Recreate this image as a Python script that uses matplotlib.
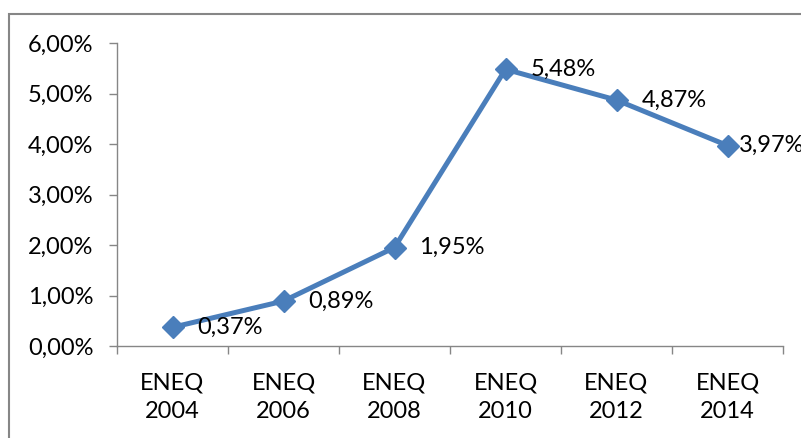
import matplotlib
matplotlib.use("Agg")
import matplotlib.pyplot as plt
from matplotlib.patches import Rectangle
from matplotlib.ticker import FuncFormatter

categories = ["ENEQ\n2004", "ENEQ\n2006", "ENEQ\n2008", "ENEQ\n2010", "ENEQ\n2012", "ENEQ\n2014"]
values = [0.37, 0.89, 1.95, 5.48, 4.87, 3.97]
yticks = [0, 1, 2, 3, 4, 5, 6]

plt.rcParams['font.family'] = ['Lato', 'DejaVu Sans']
W, H = 801, 438
fig = plt.figure(figsize=(W/100, H/100), dpi=100)
ax = fig.add_axes([117/W, 1-346/H, 666/W, 303/H])

blue = "#4A7EBB"
gray = "#868686"
fs = 17
x = [i + 0.5 for i in range(len(values))]
ax.plot(x, values, color=blue, lw=3.6, marker="D", markersize=11.5, zorder=3, clip_on=False)
for i, (xi, v) in enumerate(zip(x, values)):
    dx = 8 if i == len(values) - 1 else 18
    ax.annotate(f"{v:.2f}%".replace(".", ","), (xi, v), xytext=(dx, 0), textcoords="offset points",
                ha="left", va="center", fontsize=fs, color="black", annotation_clip=False)

ax.set_xlim(0, len(values))
ax.set_ylim(0, 6)
ax.set_yticks(yticks)
ax.yaxis.set_major_formatter(FuncFormatter(lambda v, p: f"{v:.2f}%".replace(".", ",")))
ax.set_xticks(range(len(values)+1))
ax.set_xticklabels([])
ax.set_xticks(x, minor=True)
ax.set_xticklabels(categories, minor=True, linespacing=1.45)
ax.tick_params(axis="x", which="minor", length=0, pad=19, labelsize=fs)
ax.tick_params(axis="x", which="major", length=6, color=gray, width=1)
ax.tick_params(axis="y", length=6, color=gray, width=1, labelsize=fs, pad=11)
for s in ["top", "right"]:
    ax.spines[s].set_visible(False)
for s in ["left", "bottom"]:
    ax.spines[s].set_color(gray)
    ax.spines[s].set_linewidth(1)

fig.patches.append(Rectangle((9/W, -0.1), 1.2, 1 - 14/H + 0.1, transform=fig.transFigure,
                             fill=False, edgecolor=gray, lw=1.5, clip_on=False))
fig.savefig("out.png", dpi=100)
